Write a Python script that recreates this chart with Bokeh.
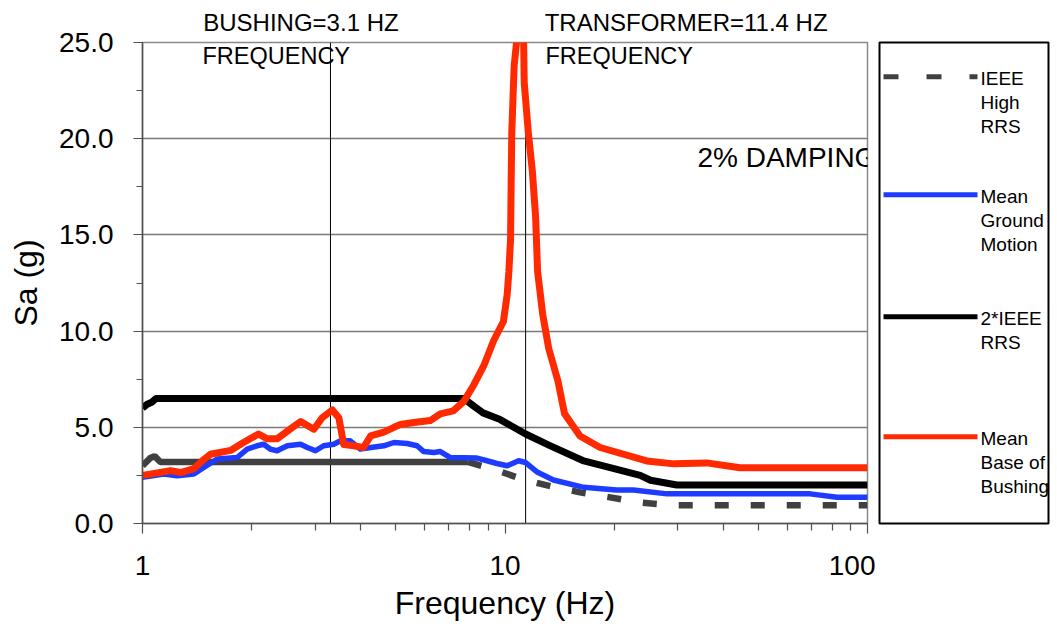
import math
from bokeh.plotting import figure
from bokeh.layouts import row
from bokeh.models import (Range1d, FixedTicker, SingleIntervalTicker,
                          NumeralTickFormatter, Span, Label, LogAxis)
from bokeh.embed import file_html
from bokeh.resources import INLINE
from bokeh.core.properties import value

FONT = "Liberation Sans"

# ---------------- data ----------------
ieee_high_f = [1.0, 1.05, 1.08, 1.12, 7.9, 9.7, 11.4, 13.6, 16.1, 19.5, 23.3, 29.0, 100.0]
ieee_high_sa = [3.0, 3.4, 3.5, 3.2, 3.2, 2.7, 2.25, 1.9, 1.62, 1.36, 1.1, 0.95, 0.95]

ground_f = [1.0, 1.145, 1.246, 1.386, 1.476, 1.607, 1.825, 1.944, 2.07, 2.16, 2.25,
            2.35, 2.51, 2.73, 2.85, 3.0, 3.16, 3.37, 3.52, 3.74, 3.99, 4.26, 4.63,
            4.94, 5.37, 5.72, 5.97, 6.37, 6.63, 7.07, 8.37, 8.92, 9.5, 10.14, 10.9,
            11.4, 12.3, 13.6, 16.5, 20.3, 22.6, 28.0, 69.5, 82.4, 100.0]
ground_sa = [2.4, 2.57, 2.48, 2.57, 2.91, 3.35, 3.43, 3.87, 4.04, 4.12, 3.87,
             3.78, 4.04, 4.12, 3.95, 3.78, 4.04, 4.12, 4.3, 4.3, 3.87, 3.95, 4.04,
             4.21, 4.16, 4.04, 3.74, 3.69, 3.74, 3.43, 3.4, 3.26, 3.12, 3.0, 3.26,
             3.17, 2.66, 2.26, 1.88, 1.74, 1.74, 1.54, 1.54, 1.36, 1.36]

ieee2_f = [1.0, 1.03, 1.06, 1.09, 7.7, 8.2, 8.7, 9.7, 11.4, 13.3, 16.5, 19.5,
           23.6, 25.2, 29.8, 100.0]
ieee2_sa = [6.0, 6.2, 6.3, 6.5, 6.5, 6.1, 5.75, 5.4, 4.65, 4.05, 3.25, 2.9,
            2.5, 2.25, 2.0, 2.0]

bushing_f = [1.0, 1.195, 1.273, 1.386, 1.46, 1.54, 1.75, 1.86, 1.98, 2.09, 2.21,
             2.35, 2.51, 2.73, 2.97, 3.13, 3.34, 3.48, 3.59, 3.79, 4.07, 4.26,
             4.63, 4.94, 5.15, 5.6, 6.22, 6.63, 7.2, 7.7, 8.2, 8.74, 9.3, 9.9,
             10.14, 10.25, 10.36, 10.4, 10.44, 10.6, 10.8, 11.25, 11.3, 11.6,
             11.9, 12.15, 12.3, 12.7, 13.2, 14.0, 14.6, 16.1, 18.3, 24.6, 29.2,
             36.0, 44.5, 100.0]
bushing_sa = [2.5, 2.75, 2.65, 2.85, 3.25, 3.6, 3.8, 4.1, 4.4, 4.65, 4.4,
              4.4, 4.8, 5.3, 4.9, 5.5, 5.9, 5.5, 4.1, 4.05, 3.95, 4.55,
              4.75, 5.0, 5.15, 5.25, 5.35, 5.7, 5.85, 6.35, 7.2, 8.2, 9.5, 10.5,
              11.9, 13.1, 14.8, 17.8, 20.3, 23.8, 25.3, 25.3, 22.9, 20.3,
              18.3, 15.9, 13.1, 10.9, 9.1, 7.4, 5.7, 4.55, 3.95, 3.25, 3.1,
              3.15, 2.9, 2.9]

marker_freqs = [3.3, 11.4]
top_texts = ["BUSHING=3.1 HZ", "TRANSFORMER=11.4 HZ"]
inner_texts = ["FREQUENCY", "FREQUENCY", "2% DAMPING"]

x_ticks = [1, 10, 100]
x_minor_ticks = [2, 3, 4, 5, 6, 7, 8, 9, 20, 30, 40, 50, 60, 70, 80, 90]

legend_labels = [["IEEE", "High", "RRS"],
                 ["Mean", "Ground", "Motion"],
                 ["2*IEEE", "RRS"],
                 ["Mean", "Base of", "Bushing"]]

# ---------------- styles ----------------
C_GRAY = "#404040"
C_BLUE = "#1E3CFF"
C_BLACK = "#000000"
C_RED = "#FF2A00"
H = 628

# ---------------- main figure ----------------
p = figure(width=875, height=H, x_axis_type="log",
           x_range=Range1d(1, 100), y_range=Range1d(0, 25),
           output_backend="svg", toolbar_location=None,
           min_border_left=142, min_border_right=8,
           min_border_top=40, min_border_bottom=H - 40 - 483)
p.background_fill_color = "white"
p.border_fill_color = "white"
p.outline_line_color = "#8a8a8a"
p.outline_line_width = 1.5
p.xgrid.visible = False
p.ygrid.grid_line_color = "#7a7a7a"
p.ygrid.grid_line_width = 1.5

p.yaxis.ticker = SingleIntervalTicker(interval=5, num_minor_ticks=2)
p.yaxis.formatter = NumeralTickFormatter(format="0.0")
p.xaxis.ticker = FixedTicker(ticks=x_ticks, minor_ticks=x_minor_ticks)
p.xaxis.formatter = NumeralTickFormatter(format="0")

for ax in (p.xaxis[0], p.yaxis[0]):
    ax.axis_line_color = "#505050"
    ax.axis_line_width = 1.5
    ax.major_tick_line_color = "#505050"
    ax.minor_tick_line_color = "#505050"
    ax.major_tick_line_width = 1.2
    ax.minor_tick_line_width = 1.2
    ax.major_tick_in = 0
    ax.minor_tick_in = 0
    ax.major_label_text_font = FONT
    ax.major_label_text_font_size = "28px"
    ax.major_label_text_color = "black"
    ax.axis_label_text_font = FONT
    ax.axis_label_text_font_size = "32px"
    ax.axis_label_text_font_style = "normal"
    ax.axis_label_text_color = "black"

p.yaxis.major_tick_out = 9
p.yaxis.minor_tick_out = 6
p.yaxis.major_label_standoff = 20
p.yaxis.axis_label = "Sa (g)"
p.yaxis.axis_label_standoff = 12
p.xaxis.major_tick_out = 10
p.xaxis.minor_tick_out = 7
p.xaxis.major_label_standoff = 22
p.xaxis.axis_label = "Frequency (Hz)"
p.xaxis.axis_label_standoff = 7

# top texts via an invisible axis above the frame (centres of the texts)
top_pos = [2.736, 31.6]
top_axis = LogAxis(ticker=FixedTicker(ticks=top_pos, minor_ticks=[]),
                   major_label_overrides={t: s for t, s in zip(top_pos, top_texts)},
                   axis_line_color=None, major_tick_line_color=None,
                   minor_tick_line_color=None, major_tick_out=0,
                   major_label_standoff=7, major_label_text_font=FONT,
                   major_label_text_font_size="24px", major_label_text_color="black")
p.add_layout(top_axis, "above")

for f in marker_freqs:
    p.add_layout(Span(location=f, dimension="height", line_color="black",
                      line_width=1, level="underlay"))

k = ieee_high_f.index(7.9)
p.line(ieee_high_f[:k + 1], ieee_high_sa[:k + 1], line_color=C_GRAY, line_width=6.5)
p.line(ieee_high_f[k:], ieee_high_sa[k:], line_color=C_GRAY, line_width=6.5,
       line_dash="14 22")
p.line(ground_f, ground_sa, line_color=C_BLUE, line_width=5.5, line_join="round")
p.line(ieee2_f, ieee2_sa, line_color=C_BLACK, line_width=7, line_join="round")
p.line(bushing_f, bushing_sa, line_color=C_RED, line_width=7, line_join="round")

inner_pos = [(1.464, 24.30), (12.93, 24.30), (33.96, 19.0)]
inner_size = ["23.5px", "23.5px", "28px"]
for t, (ax_, ay_), fs in zip(inner_texts, inner_pos, inner_size):
    p.add_layout(Label(x=ax_, y=ay_, text=t, text_font=FONT, text_font_size=fs,
                       text_color="black", text_baseline="alphabetic", text_align="left"))

# ---------------- legend figure ----------------
LW = 180
lg = figure(width=LW, height=H, x_range=Range1d(0, 169), y_range=Range1d(493, 0),
            output_backend="svg", toolbar_location=None,
            min_border_left=4, min_border_right=LW - 4 - 169, min_border_top=42,
            min_border_bottom=H - 42 - 493)
lg.axis.visible = False
lg.grid.visible = False
lg.outline_line_color = "black"
lg.outline_line_width = 2
lg.background_fill_color = "white"
lg.border_fill_color = "white"

leg_colors = [C_GRAY, C_BLUE, C_BLACK, C_RED]
leg_dash = ["15 28", "solid", "solid", "solid"]
leg_y = [35, 156, 281, 404]
for labels, col, dash, ly in zip(legend_labels, leg_colors, leg_dash, leg_y):
    lg.line([4, 98], [ly, ly], line_color=col, line_width=5, line_dash=dash)
    for j, txt in enumerate(labels):
        lg.text(x=[101], y=[ly + 2 + 24.5 * j], text=[txt],
                text_font=value(FONT), text_font_size="19px",
                text_baseline="middle", text_align="left", text_color="black")

layout = row(p, lg)
open("out.html", "w").write(file_html(layout, INLINE))
